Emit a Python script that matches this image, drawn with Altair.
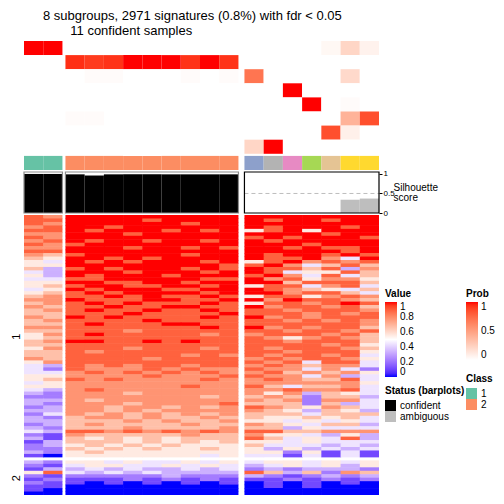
import altair as alt
import pandas as pd

TITLE = "8 subgroups, 2971 signatures (0.8%) with fdr < 0.05"
SUBTITLE = "11 confident samples"

class_names = ["1", "2", "3", "4", "5", "6", "7", "8"]
class_colors = ["#66C2A5", "#FC8D62", "#8DA0CB", "#E78AC3", "#A6D854", "#FFD92F", "#E5C494", "#B3B3B3"]

sample_slice = [0] * 2 + [1] * 9 + [2] * 7
sample_class = ["1", "1"] + ["2"] * 9 + ["3", "8", "4", "5", "7", "6", "6"]
silhouette = [1.0, 1.0, 0.99, 0.96, 0.99, 0.99, 0.99, 0.99, 0.99, 0.99, 0.99,
              0, 0, 0, 0, 0, 0.34, 0.37]
status = ["confident"] * 11 + ["ambiguous"] * 7

prob_rows = ["p1", "p2", "p3", "p4", "p5", "p6", "p7", "p8"]
p1 = [1, 1, 0, 0, 0, 0, 0, 0, 0, 0, 0, 0, 0, 0, 0, 0.04, 0.22, 0.07]
p2 = [0, 0, 0.94, 0.91, 0.93, 1, 1, 1, 0.93, 1, 0.93, 0, 0, 0, 0, 0, 0, 0]
p3 = [0, 0, 0, 0.02, 0.02, 0, 0, 0, 0.02, 0, 0.02, 0.7, 0, 0, 0, 0, 0.2, 0]
p4 = [0, 0, 0, 0, 0, 0, 0, 0, 0, 0, 0, 0, 0, 1, 0, 0, 0, 0]
p5 = [0, 0, 0, 0, 0, 0, 0, 0, 0, 0, 0, 0, 0, 0, 1, 0, 0.02, 0]
p6 = [0, 0, 0.02, 0.02, 0, 0, 0, 0, 0, 0, 0, 0, 0, 0, 0, 0, 0.4, 0.85]
p7 = [0, 0, 0, 0, 0, 0, 0, 0, 0, 0, 0, 0, 0, 0, 0, 0.85, 0.08, 0]
p8 = [0, 0, 0, 0, 0, 0, 0, 0, 0, 0, 0, 0.22, 1, 0, 0, 0, 0, 0]
prob_values = [p1, p2, p3, p4, p5, p6, p7, p8]

# heatmap: one string per row, digit d -> value d/9, columns = 18 samples
heat_cluster1 = [
    "87 999999999 9999999", "88 999989999 9899899", "87 999999899 9999999",
    "78 998999999 9899989", "88 989998989 5895999", "77 999899999 9999899",
    "87 999999999 8989998", "78 989989989 9899999", "87 899999999 9998999",
    "77 999899898 9989889", "88 999999999 9999989", "76 899999899 9899898",
    "65 998989999 9889749", "54 989899989 5897878", "55 999999998 8974686",
    "63 898999898 9886837", "43 999899989 9845586", "53 989998999 8974846",
    "44 889999988 9785775", "55 998899899 9968886", "56 899889989 5884784",
    "45 989998899 9876546", "56 898999989 9978864", "67 889898898 5885787",
    "77 988899889 9798876", "67 898988898 5887898", "76 889889988 9788786",
    "67 898898898 8878887", "66 888988889 8887878", "76 989888898 9787888",
    "67 888898888 8878787", "66 898889988 8888887", "77 888888898 9787886",
    "66 888788888 8878878", "57 898888878 7888786", "56 888888888 8757876",
    "67 998898988 8878886", "66 888888888 8888785", "57 888788878 8788876",
    "66 878888888 8878885", "66 888888787 8788784", "76 888878888 7878875",
    "57 888888888 8784884", "43 878788788 7876774", "42 877787877 8774742",
    "44 787878787 7867675", "55 777787778 8774734", "56 878777787 7876684",
    "45 777777777 7777775", "55 777777877 8646674", "43 787777777 7787784",
    "32 777677777 7573654", "22 777777767 6762663", "33 767777777 7672774",
    "32 777677778 6662634", "23 776776767 8765764", "33 776767777 7653653",
    "24 767676767 6664666", "32 677676676 6556564", "33 666767667 5545454",
    "23 676666766 7654663", "32 666766667 6635444", "43 887878787 8866777",
    "21 766666766 7554353", "31 656565666 8645483", "13 666565656 5545444",
    "23 565656555 6444343", "22 656565565 5353434", "32 565555555 5525141",
    "10 555555545 4414141",
]
heat_cluster2 = [
    "32 554544545 4554545", "21 455445454 3454535", "13 343433434 2323332",
    "58 434343333 8636276", "21 222223222 3212323", "12 111212121 1121212",
    "21 101010101 0101010", "11 000000000 0101000", "10 000000000 0000000",
    "00 000000000 0000000",
]

value_ticks = [0, 0.2, 0.4, 0.6, 0.8, 1]
prob_ticks = [0, 0.5, 1]
sil_ticks = [0, 0.5, 1]

# ---- layout parameters ----
W = 355
slice_offset = [0.0, 0.156, 0.468]
XMAX = 18 + slice_offset[2]
CL_GAP = 0.867
ANN_H, SIL_H, HEAT_H = 129, 41, 280
SEAM_X, SEAM_Y = 0.03, 0.15   # tiny overlap so neighbouring cells leave no anti-aliasing seams
FONT = "Liberation Sans"

samples = pd.DataFrame({
    "i": range(18), "slice": sample_slice, "cls": sample_class,
    "sil": silhouette, "status": status,
})
samples["x0"] = samples["i"] + samples["slice"].map(lambda s: slice_offset[s])
samples["x1"] = samples["x0"] + 1
samples["base"] = 0.0

slices = pd.DataFrame({
    "x0": [0.0, 2 + slice_offset[1], 11 + slice_offset[2]],
    "x1": [2.0, 11 + slice_offset[1], 18 + slice_offset[2]],
    "frame": ["#8c8c8c", "#8c8c8c", "black"],
    "lo": [0.0, 0.0, 0.0], "hi": [1.05, 1.05, 1.05], "ref": [0.5, 0.5, 0.5],
})

prob_df = pd.DataFrame([
    {"row": prob_rows[k], "y0": k, "y1": k + 1, "x0": samples.x0[i], "x1": samples.x1[i],
     "prob": prob_values[k][i]}
    for k in range(8) for i in range(18)
])
class_df = samples[["x0", "x1", "cls"]].copy()
class_df["y0"] = 8.15
class_df["y1"] = 9.15

heat_records = []
for cl, rows, start in [(1, heat_cluster1, 0.0), (2, heat_cluster2, len(heat_cluster1) + CL_GAP)]:
    n = len(rows)
    for r, s in enumerate(rows):
        digits = s.replace(" ", "")
        for i, ch in enumerate(digits):
            last_in_slice = i in (1, 10, 17)
            heat_records.append({
                "y0": start + r,
                "y1": start + r + 1 + (0 if r == n - 1 else SEAM_Y),
                "x0": samples.x0[i],
                "x1": samples.x1[i] + (0 if last_in_slice else SEAM_X),
                "value": int(ch) / 9})
heat_df = pd.DataFrame(heat_records)
YMAX_H = len(heat_cluster1) + CL_GAP + len(heat_cluster2)

xs = alt.Scale(domain=[0, XMAX], nice=False, zero=False)

# ---- annotation block ----
ann_y = alt.Scale(domain=[0, 9.15], nice=False, zero=False, reverse=True)
row_axis = alt.Axis(orient="right", values=[0.5, 1.5, 2.5, 3.5, 4.5, 5.5, 6.5, 7.5, 8.65],
                    labelExpr="datum.value < 8 ? 'p' + (floor(datum.value) + 1) : 'Class'",
                    ticks=False, domain=False, grid=False, labelFontSize=12, labelPadding=3,
                    labelColor="black", title=None)
prob_layer = alt.Chart(prob_df).mark_rect().encode(
    x=alt.X("x0:Q", scale=xs, axis=None), x2="x1:Q",
    y=alt.Y("y0:Q", scale=ann_y, axis=row_axis), y2="y1:Q",
    color=alt.Color("prob:Q", scale=alt.Scale(domain=[0, 1], range=["white", "red"], interpolate="lab"),
                    legend=alt.Legend(title="Prob", orient="none", legendX=442, legendY=248,
                                      values=prob_ticks, format="~g", gradientLength=58,
                                      gradientThickness=12, gradientStrokeWidth=0,
                                      titleFontSize=10, labelFontSize=10, titlePadding=3,
                                      labelOffset=3, padding=0, labelOverlap=False)),
)
class_layer = alt.Chart(class_df).mark_rect().encode(
    x=alt.X("x0:Q", scale=xs, axis=None), x2="x1:Q",
    y=alt.Y("y0:Q", scale=ann_y, axis=None), y2="y1:Q",
    fill=alt.Fill("cls:N", scale=alt.Scale(domain=class_names, range=class_colors),
                  legend=alt.Legend(title="Class", orient="none", legendX=442, legendY=333,
                                    values=["1", "2"], symbolType="square", symbolSize=121,
                                    symbolStrokeWidth=0, rowPadding=0, titleFontSize=10,
                                    labelFontSize=10, titlePadding=4, labelOffset=4, padding=0)),
)
sub_df = pd.DataFrame({"label": [SUBTITLE], "xc": [(0 + 11 + slice_offset[1]) / 2]})
sub_layer = alt.Chart(sub_df).mark_text(fontSize=13, baseline="alphabetic", align="center").encode(
    x=alt.X("xc:Q", scale=xs, axis=None), y=alt.value(-6), text="label:N")
ann = alt.layer(prob_layer, class_layer, sub_layer).properties(width=W, height=ANN_H)

# ---- silhouette block ----
sil_y = alt.Scale(domain=[0, 1.05], nice=False, zero=False)
sil_axis = alt.Axis(orient="right", values=sil_ticks, format="~g", tickSize=3, labelFontSize=8,
                    labelPadding=1, domain=False, grid=False, title=["Silhouette", "score"],
                    titleAngle=0, titleAlign="left", titleBaseline="alphabetic", titleX=14,
                    titleY=18, titleFontSize=10, titleFontWeight="normal", titleLineHeight=10,
                    labelColor="black", titleColor="black", tickColor="black")
bar_layer = alt.Chart(samples).mark_rect().encode(
    x=alt.X("x0:Q", scale=xs, axis=None), x2="x1:Q",
    y=alt.Y("sil:Q", scale=sil_y, axis=sil_axis), y2="base:Q",
    color=alt.Color("status:N", scale=alt.Scale(domain=["confident", "ambiguous"], range=["black", "#BEBEBE"]),
                    legend=alt.Legend(title="Status (barplots)", orient="none", legendX=361, legendY=214,
                                      symbolType="square", symbolSize=121, symbolStrokeWidth=0,
                                      rowPadding=0, titleFontSize=10, labelFontSize=10,
                                      titlePadding=4, labelOffset=4, padding=0)),
)
ref_layer = alt.Chart(slices.iloc[[2]]).mark_rule(strokeDash=[4, 3], color="#BEBEBE", strokeWidth=1).encode(
    x=alt.X("x0:Q", scale=xs, axis=None), x2="x1:Q",
    y=alt.Y("ref:Q", scale=sil_y, axis=sil_axis))
frame_layer = alt.Chart(slices).mark_rect(filled=False, strokeWidth=1.2).encode(
    x=alt.X("x0:Q", scale=xs, axis=None), x2="x1:Q",
    y=alt.Y("lo:Q", scale=sil_y, axis=sil_axis), y2="hi:Q",
    stroke=alt.Stroke("frame:N", scale=None))
sil = alt.layer(bar_layer, ref_layer, frame_layer).properties(width=W, height=SIL_H)

# ---- heatmap block ----
heat_y = alt.Scale(domain=[0, YMAX_H], nice=False, zero=False, reverse=True)
c1_mid = len(heat_cluster1) / 2
c2_mid = len(heat_cluster1) + CL_GAP + len(heat_cluster2) / 2
value_scale = alt.Scale(domain=[0, 0.5, 1], range=["blue", "white", "red"], interpolate="lab")
heat = alt.Chart(heat_df).mark_rect().encode(
    x=alt.X("x0:Q", scale=xs, axis=None), x2="x1:Q",
    y=alt.Y("y0:Q", scale=heat_y,
            axis=alt.Axis(orient="left", values=[c1_mid, c2_mid],
                          labelExpr=f"datum.value < {len(heat_cluster1)} ? '1' : '2'",
                          labelAngle=270, labelFontSize=11, ticks=False, domain=False,
                          grid=False, labelPadding=3, title=None, labelColor="black")),
    y2="y1:Q",
    color=alt.Color("value:Q", scale=value_scale,
                    legend=alt.Legend(title="Value", orient="none", legendX=361, legendY=74,
                                      values=value_ticks, format="~g", gradientLength=75,
                                      gradientThickness=12, gradientStrokeWidth=0,
                                      titleFontSize=10, labelFontSize=10, titlePadding=3,
                                      labelOffset=3, padding=0, labelOverlap=False)),
).properties(width=W, height=HEAT_H)

chart = alt.vconcat(ann, sil, heat, spacing=2, bounds="flush").resolve_scale(
    color="independent", fill="independent", y="independent"
).properties(
    title=alt.TitleParams(TITLE, fontSize=13, fontWeight="normal", anchor="start", dx=19, offset=2, frame="group"),
    autosize=alt.AutoSizeParams(type="none"),
    padding={"left": 16, "top": 33, "right": 117, "bottom": 455},
).configure(font=FONT).configure_view(strokeWidth=0).configure_legend(
    titleFontWeight="bold", labelColor="black", titleColor="black")

chart.save("out.html", embed_options={"renderer": "svg", "actions": False})
